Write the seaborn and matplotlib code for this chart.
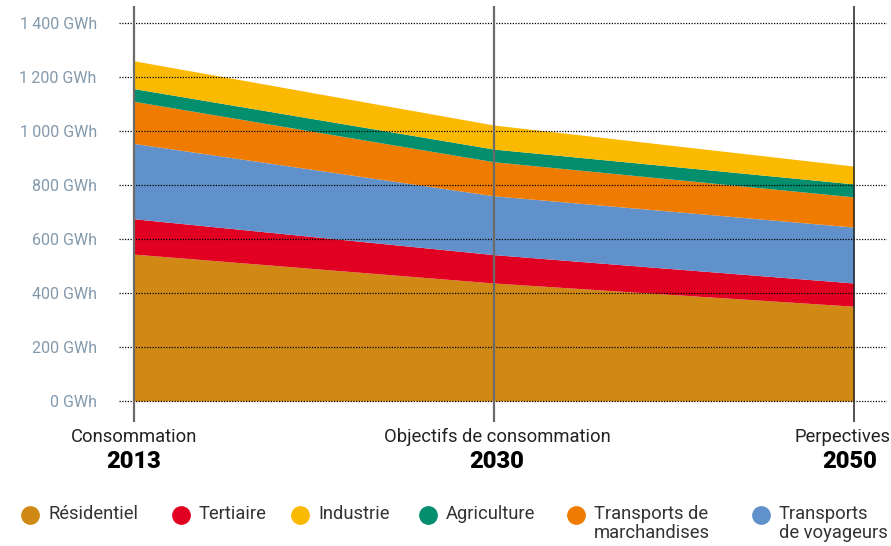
import numpy as np
import matplotlib
matplotlib.use("Agg")
import matplotlib.pyplot as plt
from matplotlib.lines import Line2D
import seaborn as sns

# ---- data ----
years = ["2013", "2030", "2050"]
periods = ["Consommation", "Objectifs de consommation", "Perpectives"]
residentiel = [544, 437, 351]
tertiaire = [131, 105, 86]
transports_voyageurs = [279, 218, 207]
transports_marchandises = [156, 126, 112]
agriculture = [47, 47, 48]
industrie = [103, 89, 66]
y_ticks = [0, 200, 400, 600, 800, 1000, 1200, 1400]

series_names = ["Résidentiel", "Tertiaire", "Transports\nde voyageurs",
                "Transports de\nmarchandises", "Agriculture", "Industrie"]
series_values = [residentiel, tertiaire, transports_voyageurs,
                 transports_marchandises, agriculture, industrie]
series_colors = ["#D08914", "#E10022", "#6191CB", "#EF7C00", "#038E6E", "#FBB900"]

legend_order = ["Résidentiel", "Tertiaire", "Industrie", "Agriculture",
                "Transports de\nmarchandises", "Transports\nde voyageurs"]

sns.set_theme(style="white")
plt.rcParams["font.family"] = ["Roboto", "DejaVu Sans"]

fig = plt.figure(figsize=(8.91, 5.46), dpi=100)
ax = fig.add_axes([119 / 891, (546 - 422) / 546, 768 / 891, 416 / 546])

x = np.arange(len(years))
ax.stackplot(x, *series_values, colors=series_colors, linewidth=0, zorder=2)

ax.set_xlim(-15 / 360, 2 + 33 / 360)
ax.set_ylim((401 - 422) / 0.27, (401 - 6) / 0.27)

for v in y_ticks:
    ax.axhline(v, color="black", linestyle=(0, (1, 1.2)), linewidth=0.9, zorder=3)

ax.axvline(0, color="#6b6b6b", linewidth=1.6, zorder=4)
ax.axvline(1, color="#6b6b6b", linewidth=1.6, zorder=4)
ax.axvline(2, color="#222222", linewidth=1.1, zorder=4)

def fmt(v):
    s = f"{v:,}".replace(",", "\u2009")
    return f"{s} GWh"

ax.set_yticks(y_ticks)
ax.set_yticklabels([fmt(v) for v in y_ticks], color="#8399AC", fontsize=11.5)
ax.tick_params(axis="y", length=0, pad=16)
ax.set_xticks([])
for s in ax.spines.values():
    s.set_visible(False)

# x labels
xpix = [134, 497, 843]
for i, (p, yr) in enumerate(zip(periods, years)):
    fig.text(xpix[i] / 891, 1 - 437 / 546, p, ha="center", va="center",
             fontsize=13.2, color="#222222")
    fig.text([134, 497, 850][i] / 891, 1 - 462 / 546, yr, ha="center", va="center",
             fontsize=17, fontweight="heavy", color="black")

# legend
leg_x = [30, 181, 300, 428, 576, 761]
leg_y = 515
name_to_color = dict(zip(series_names, series_colors))
for name, lx in zip(legend_order, leg_x):
    fig.add_artist(Line2D([lx / 891], [1 - leg_y / 546], marker="o", markersize=12.5,
                          color=name_to_color[name], linestyle="none",
                          transform=fig.transFigure))
    fig.text((lx + 18) / 891, 1 - (leg_y - 10) / 546, name, ha="left", va="top",
             fontsize=13.2, color="#333333", linespacing=1.05)

fig.savefig("out.png", dpi=100)
